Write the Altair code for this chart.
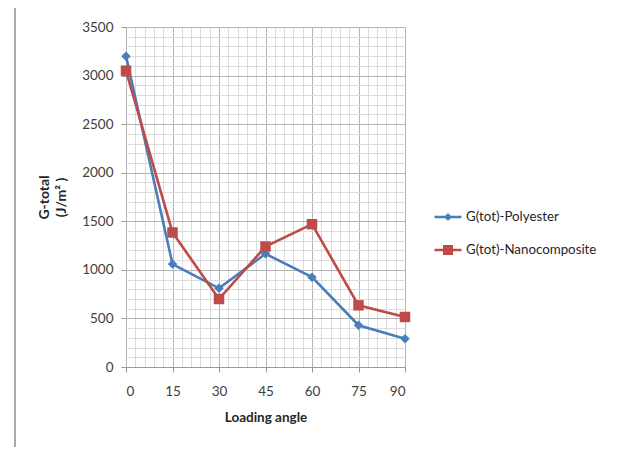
import altair as alt
import pandas as pd

angles = [0, 15, 30, 45, 60, 75, 90]
polyester = [3200, 1060, 810, 1165, 925, 430, 290]
nanocomposite = [3050, 1385, 700, 1240, 1470, 635, 515]
series_names = ["G(tot)-Polyester", "G(tot)-Nanocomposite"]
colors = ["#4A7EBB", "#BE4B48"]
shapes = ["diamond", "square"]
marker_sizes = [90, 110]

rows = []
for a, p, n in zip(angles, polyester, nanocomposite):
    rows.append({"angle": a, "G": p, "series": series_names[0]})
    rows.append({"angle": a, "G": n, "series": series_names[1]})
df = pd.DataFrame(rows)

FONT = "Lato"

x_axis = alt.Axis(
    values=list(range(0, 91, 3)),
    labelExpr="datum.value % 15 === 0 ? datum.label : ''",
    gridColor={"condition": {"test": "datum.value % 15 === 0", "value": "#b4b4b4"}, "value": "#dcdcdc"},
    tickOpacity={"condition": {"test": "datum.value % 15 === 0", "value": 1}, "value": 0},
    tickColor="#9a9a9a",
    tickSize=5,
    domainColor="#9a9a9a",
    labelPadding=12,
    labelFontSize=13.5,
    labelColor="#404040",
    labelFont=FONT,
    title="Loading angle",
    titleFont=FONT,
    titleFontSize=13.5,
    titleFontWeight="bold",
    titleColor="#262626",
    titlePadding=13,
)
y_axis = alt.Axis(
    values=list(range(0, 3501, 100)),
    labelExpr="datum.value % 500 === 0 ? datum.label : ''",
    format="d",
    gridColor={"condition": {"test": "datum.value % 500 === 0", "value": "#b4b4b4"}, "value": "#dcdcdc"},
    tickOpacity={"condition": {"test": "datum.value % 500 === 0", "value": 1}, "value": 0},
    tickColor="#9a9a9a",
    tickSize=5,
    domain=False,
    labelPadding=8,
    labelFontSize=13.5,
    labelColor="#404040",
    labelFont=FONT,
    title=["G-total", "(J/m² )"],
    titleFont=FONT,
    titleFontSize=14,
    titleLineHeight=17,
    titleFontWeight="bold",
    titleColor="#262626",
    titlePadding=13,
)

diamond_line = "M-1.25,-0.12H1.25V0.12H-1.25Z M0,-0.38L0.38,0L0,0.38L-0.38,0Z"
square_line = "M-1.25,-0.12H1.25V0.12H-1.25Z M-0.46,-0.46H0.46V0.46H-0.46Z"

x_enc = alt.X("angle:Q", scale=alt.Scale(domain=[0, 90], nice=False), axis=x_axis)
y_enc = alt.Y("G:Q", scale=alt.Scale(domain=[0, 3500], nice=False), axis=y_axis)

layers = []
for name, col in zip(series_names, colors):
    layers.append(
        alt.Chart(df).transform_filter(alt.datum.series == name).mark_line(strokeWidth=2.6, color=col).encode(
            x=x_enc, y=y_enc
        )
    )
for name, col, shp, sz in zip(series_names, colors, shapes, marker_sizes):
    layers.append(
        alt.Chart(df).transform_filter(alt.datum.series == name).mark_point(
            filled=True, size=sz, opacity=1, shape=shp, color=col
        ).encode(x=x_enc, y=y_enc)
    )

legend_cfg = dict(
    title=None,
    orient="none",
    legendX=311,
    legendY=179,
    labelFont=FONT,
    labelFontSize=13.3,
    labelColor="#262626",
    labelLimit=300,
    symbolSize=467,
    symbolStrokeWidth=0,
    symbolOpacity=1,
    rowPadding=15,
    labelOffset=7,
)
legend_layer = alt.Chart(df).mark_point(filled=True, opacity=0).encode(
    x=x_enc,
    y=y_enc,
    fill=alt.Fill("series:N", scale=alt.Scale(domain=series_names, range=colors), legend=alt.Legend(**legend_cfg)),
    shape=alt.Shape(
        "series:N",
        scale=alt.Scale(domain=series_names, range=[diamond_line, square_line]),
        legend=alt.Legend(**legend_cfg),
    ),
)
layers.append(legend_layer)

layers.append(
    alt.Chart(pd.DataFrame({"k": [0]})).mark_rule(color="#8c8c8c", strokeWidth=1.5).encode(
        x=alt.value(-111), x2=alt.value(600), y=alt.value(-20)
    )
)
layers.append(
    alt.Chart(pd.DataFrame({"k": [0]})).mark_rule(color="#8c8c8c", strokeWidth=1.5).encode(
        x=alt.value(-111), y=alt.value(-20), y2=alt.value(440)
    )
)

chart = alt.layer(*layers).properties(
    width=279,
    height=340,
    padding={"left": 118, "top": 19, "right": 196, "bottom": 80},
    autosize=alt.AutoSizeParams(type="none"),
    background="white",
).configure_view(stroke=None)

chart.save("out.html", embed_options={"renderer": "svg", "actions": False})
